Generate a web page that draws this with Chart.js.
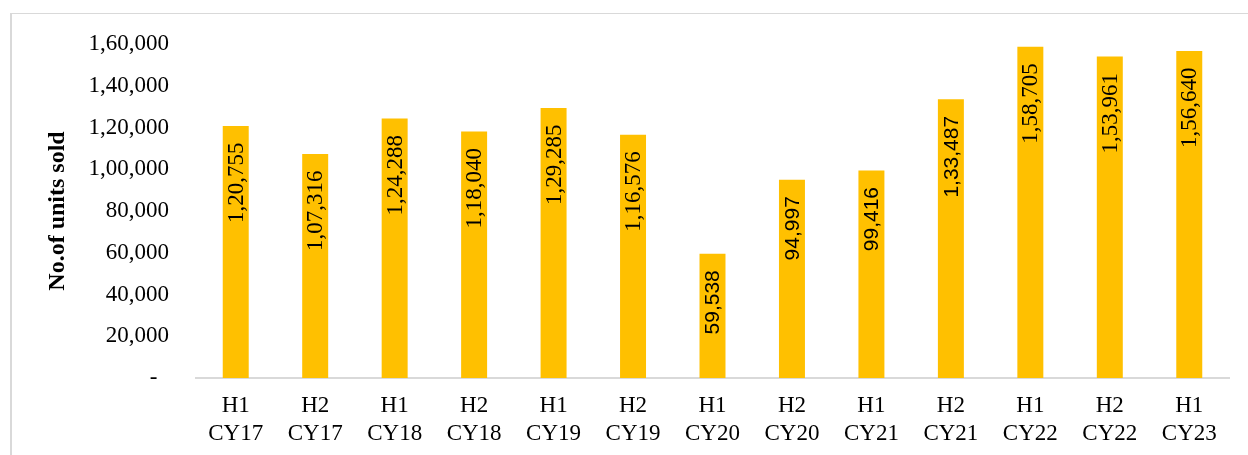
<!DOCTYPE html>
<html>
<head>
<meta charset="utf-8">
<script src="https://cdn.jsdelivr.net/npm/chart.js@4/dist/chart.umd.min.js"></script>
<style>
  html, body { margin: 0; padding: 0; background: #fff; }
  #wrap { position: relative; width: 1248px; height: 455px; overflow: hidden; background: #fff; }
  #frame { position: absolute; left: 10px; top: 13px; width: 1300px; height: 500px;
           border-left: 2px solid #d9d9d9; border-top: 1px solid #d9d9d9; box-sizing: border-box; }
  canvas { position: absolute; left: 0; top: 0; }
</style>
</head>
<body>
<div id="wrap">
  <div id="frame"></div>
  <canvas id="c" width="1248" height="455"></canvas>
</div>
<script>
// ---- data ----
const halves = ["H1","H2","H1","H2","H1","H2","H1","H2","H1","H2","H1","H2","H1"];
const years  = ["CY17","CY17","CY18","CY18","CY19","CY19","CY20","CY20","CY21","CY21","CY22","CY22","CY23"];
const unitsSold = [120755, 107316, 124288, 118040, 129285, 116576, 59538, 94997, 99416, 133487, 158705, 153961, 156640];
const yTicks = [0, 20000, 40000, 60000, 80000, 100000, 120000, 140000, 160000];
const sansLabelIdx = [6, 7, 8, 9];
const yTitle = "No.of units sold";

function fmtIN(n) {
  const s = String(Math.round(n));
  if (s.length <= 3) return s;
  const last3 = s.slice(-3);
  let rest = s.slice(0, -3);
  const parts = [];
  while (rest.length > 2) { parts.unshift(rest.slice(-2)); rest = rest.slice(0, -2); }
  if (rest.length) parts.unshift(rest);
  return parts.join(",") + "," + last3;
}

const labels = halves.map((h, i) => [h, years[i]]);
const SERIF = "'Liberation Serif', 'Times New Roman', serif";
const SANS = "'Liberation Sans', Arial, sans-serif";

const barLabels = {
  id: 'barLabels',
  afterDatasetsDraw(chart) {
    const ctx = chart.ctx;
    const meta = chart.getDatasetMeta(0);
    meta.data.forEach((bar, i) => {
      const sans = sansLabelIdx.includes(i);
      ctx.save();
      ctx.translate(bar.x + 1, bar.y + 16.5);
      ctx.rotate(-Math.PI / 2);
      ctx.font = sans ? "21px " + SANS : "23px " + SERIF;
      ctx.fillStyle = "#000";
      ctx.textAlign = "right";
      ctx.textBaseline = "middle";
      ctx.fillText(fmtIN(unitsSold[i]), 0, 0);
      ctx.restore();
    });
  }
};

new Chart(document.getElementById('c'), {
  type: 'bar',
  data: {
    labels: labels,
    datasets: [{
      data: unitsSold,
      backgroundColor: '#FFC000',
      borderWidth: 0,
      barPercentage: 0.327,
      categoryPercentage: 1.0
    }]
  },
  options: {
    responsive: false,
    animation: false,
    devicePixelRatio: 1,
    layout: { padding: { left: 0, right: 19, top: 44, bottom: 0 } },
    plugins: { legend: { display: false }, tooltip: { enabled: false } },
    scales: {
      x: {
        grid: { display: false, drawTicks: false },
        border: { display: true, color: '#d9d9d9', width: 2 },
        ticks: {
          color: '#000',
          font: { family: SERIF, size: 23, lineHeight: 1.217 },
          padding: 14,
          maxRotation: 0,
          autoSkip: false
        },
        afterFit(scale) { scale.height = 77; }
      },
      y: {
        min: 0,
        max: 160000,
        afterBuildTicks(scale) { scale.ticks = yTicks.map(v => ({ value: v })); },
        grid: { display: false, drawTicks: false },
        border: { display: false },
        ticks: {
          color: '#000',
          font: { family: SERIF, size: 23 },
          padding: 27,
          callback: (v) => v === 0 ? "-  " : fmtIN(v)
        },
        title: {
          display: true,
          text: yTitle,
          color: '#000',
          font: { family: SERIF, size: 24, weight: 'bold', lineHeight: 1.2 },
          padding: { top: 43, bottom: 0 }
        },
        afterFit(scale) { scale.width = 196; }
      }
    }
  },
  plugins: [barLabels]
});
</script>
</body>
</html>
